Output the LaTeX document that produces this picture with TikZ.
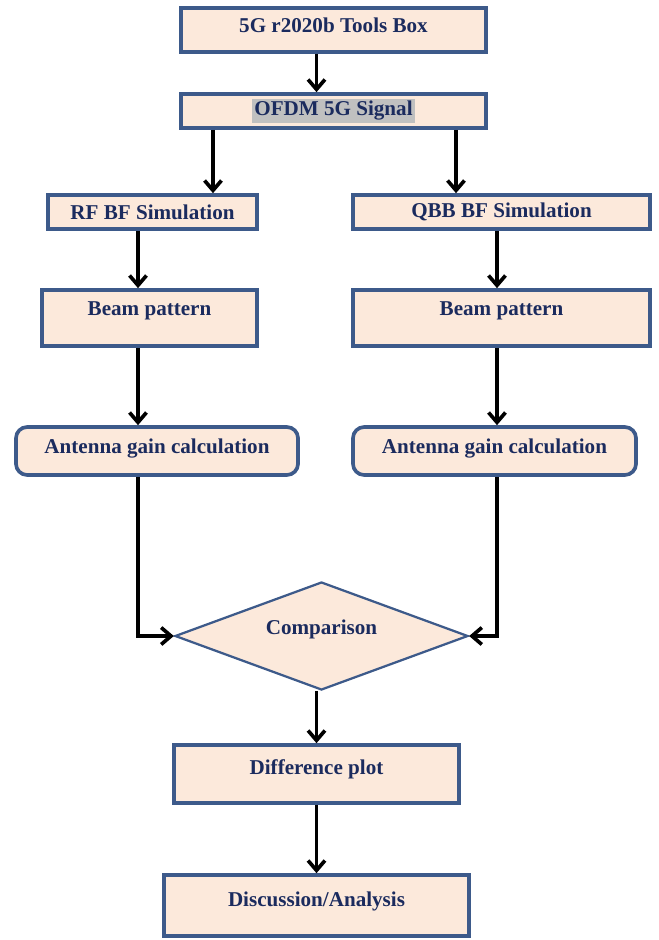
\documentclass[tikz,border=0pt]{standalone}
\usepackage{fontspec}
\setmainfont{Liberation Serif}
\usepackage{xcolor}
\usetikzlibrary{shapes,arrows.meta}
\definecolor{boxfill}{HTML}{FCE9DB}
\definecolor{boxline}{HTML}{3D5A8A}
\definecolor{boxtext}{HTML}{1B2B5E}
\definecolor{hilite}{HTML}{C0C0C0}
\tikzset{box/.style={draw=boxline,line width=2.6pt,fill=boxfill,text=boxtext,
   font=\fontsize{15}{17}\selectfont\bfseries,inner sep=0pt},
 rbox/.style={box,rounded corners=8pt},
 decide/.style={box,diamond,aspect=2.7,line width=1.6pt,inner sep=0pt},
 flow/.style={line width=2.6pt,-{Straight Barb[length=7pt,width=12pt,line width=2.6pt]}},
 }

\begin{document}
\begin{tikzpicture}[x=0.025cm,y=-0.025cm]
        \useasboundingbox (0,0) rectangle (658,940);
        \node[box,minimum width=7.625cm,minimum height=1.1cm,text depth=0.25cm] (tools) at (333.5,30) {5G r2020b Tools Box};
        \node[box,minimum width=7.625cm,minimum height=0.85cm] (ofdm) at (333.5,111)
            {\setlength{\fboxsep}{1.5pt}\colorbox{hilite}{OFDM 5G Signal}};
        \node[box,minimum width=5.225cm,minimum height=0.85cm] (rf) at (152.5,212) {RF BF Simulation};
        \node[box,minimum width=7.425cm,minimum height=0.85cm] (qbb) at (501.5,212) {QBB BF Simulation};
        \node[box,minimum width=5.375cm,minimum height=1.4cm,text depth=0.45cm] (beaml) at (149.5,318) {Beam pattern};
        \node[box,minimum width=7.425cm,minimum height=1.4cm,text depth=0.45cm] (beamr) at (501.5,318) {Beam pattern};
        \node[rbox,minimum width=7.05cm,minimum height=1.2cm,text depth=0.25cm] (gainl) at (157,451) {Antenna gain calculation};
        \node[rbox,minimum width=7.075cm,minimum height=1.2cm,text depth=0.25cm] (gainr) at (494.5,451) {Antenna gain calculation};
        \node[decide,minimum width=7.325cm,minimum height=2.7cm,text depth=0.45cm] (cmp) at (321.5,636) {Comparison};
        \node[box,minimum width=7.125cm,minimum height=1.45cm,text depth=0.35cm] (diff) at (316.5,774) {Difference plot};
        \node[box,minimum width=7.625cm,minimum height=1.525cm,text depth=0.3cm] (disc) at (316.5,905.5) {Discussion/Analysis};
        % columns of the arrows
        \coordinate (lft) at (213,0);
        \coordinate (rgt) at (456,0);
        \coordinate (lcol) at (138,0);
        \coordinate (rcol) at (497,0);
        \draw[flow] (tools.south -| diff) -- (ofdm.north -| diff);
        \draw[flow] (ofdm.south -| lft) -- (rf.north -| lft);
        \draw[flow] (ofdm.south -| rgt) -- (qbb.north -| rgt);
        \draw[flow] (rf.south -| lcol) -- (beaml.north -| lcol);
        \draw[flow] (qbb.south -| rcol) -- (beamr.north -| rcol);
        \draw[flow] (beaml.south -| lcol) -- (gainl.north -| lcol);
        \draw[flow] (beamr.south -| rcol) -- (gainr.north -| rcol);
        \draw[flow] (gainl.south -| lcol) |- (cmp.west);
        \draw[flow] (gainr.south -| rcol) |- (cmp.east);
        \draw[flow] (cmp.south -| diff) -- (diff.north);
        \draw[flow] (diff.south) -- (disc.north);
    \end{tikzpicture}
\end{document}
